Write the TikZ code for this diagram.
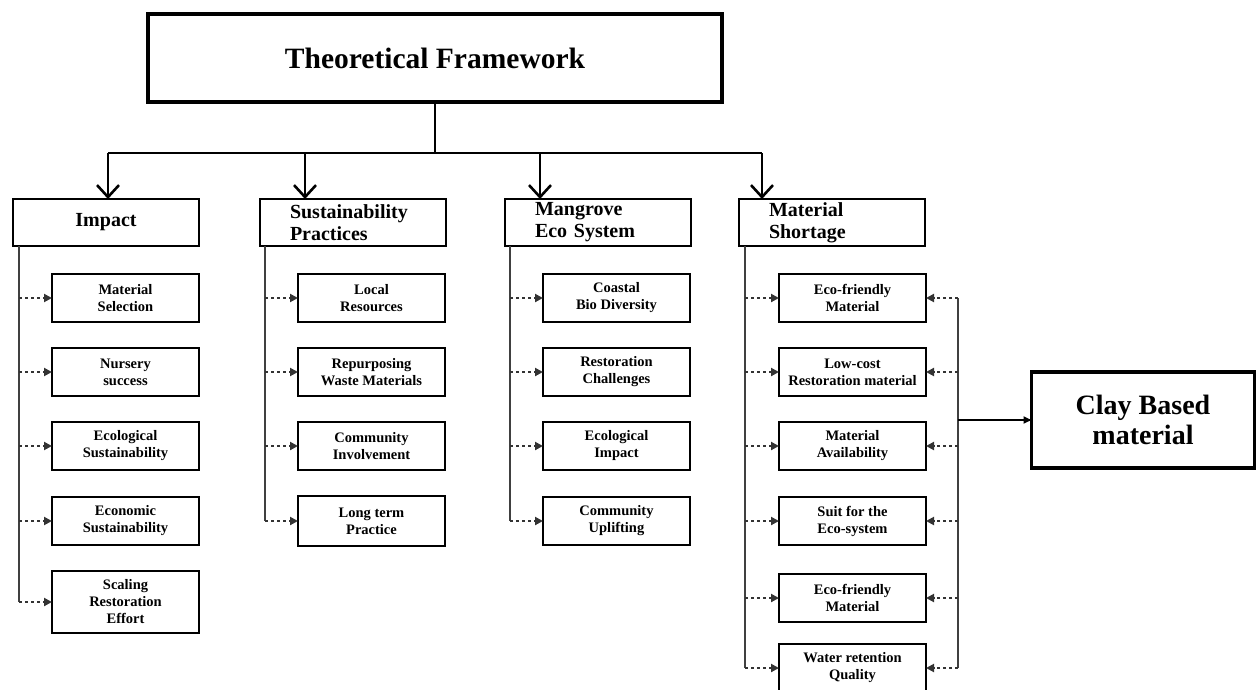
\documentclass[tikz,border=0pt]{standalone}
\usepackage{fontspec}
\setmainfont{Liberation Serif}
\usetikzlibrary{arrows.meta}
\begin{document}
\begin{tikzpicture}[x=1pt,y=-1pt,
  every node/.style={inner sep=0pt, outer sep=0pt},
  titlebox/.style={draw, line width=3.2pt, minimum width=574pt, minimum height=88pt, font=\bfseries\fontsize{29.5}{32}\selectfont},
  catbox/.style={draw, line width=2.6pt, minimum width=186pt, minimum height=47pt, font=\bfseries\fontsize{20}{22}\selectfont},
  catleft/.style={catbox, text width=126pt, inner xsep=30pt, align=left},
  leaf/.style={draw, line width=2.4pt, minimum width=147pt, minimum height=48pt, align=center, font=\bfseries\fontsize{14.5}{17}\selectfont},
  claybox/.style={draw, line width=3.2pt, minimum width=223pt, minimum height=96pt, align=center, font=\bfseries\fontsize{28}{30}\selectfont},
  main/.style={line width=2.6pt},
  down/.style={main, -{Straight Barb[length=12pt,width=22pt,line width=2.6pt]}},
  rail/.style={line width=2.4pt, black!75},
  dots/.style={line width=2pt, black!80, dash pattern=on 2.8pt off 3.2pt, -{Triangle[length=8pt,width=8pt]}},
  solidarr/.style={line width=1.8pt, -{Triangle[length=8pt,width=7pt]}}
]
\useasboundingbox (0,0) rectangle (1256,689);

% title
\node[titlebox] (tf) at (435,58) {Theoretical Framework};

% categories
\node[catbox] (c1) at (106,222.5) {Impact};
\node[catleft] (c2) at (353,222.5) {Sustainability\\Practices};
\node[catleft] (c3) at (598,222.5) {Mangrove\\Eco System};
\node[catleft] (c4) at (832,222.5) {Material\\Shortage};

% bus
\coordinate (bus) at (435,153);
\coordinate (b1) at (108,153);
\coordinate (b2) at (305,153);
\coordinate (b3) at (540,153);
\coordinate (b4) at (762,153);
\draw[main] (tf.south) -- (bus);
\draw[main] (b1) -- (b4);
\draw[down] (b1) -- (b1 |- c1.north);
\draw[down] (b2) -- (b2 |- c2.north);
\draw[down] (b3) -- (b3 |- c3.north);
\draw[down] (b4) -- (b4 |- c4.north);

% Impact leaves
\node[leaf] (i1) at (125.5,298) {Material\\Selection};
\node[leaf] (i2) at (125.5,372) {Nursery\\success};
\node[leaf] (i3) at (125.5,446) {Ecological\\Sustainability};
\node[leaf] (i4) at (125.5,521) {Economic\\Sustainability};
\node[leaf, minimum height=62pt] (i5) at (125.5,602) {Scaling\\Restoration\\Effort};

% Sustainability leaves
\node[leaf] (s1) at (371.5,298) {Local\\Resources};
\node[leaf] (s2) at (371.5,372) {Repurposing\\Waste Materials};
\node[leaf] (s3) at (371.5,446) {Community\\Involvement};
\node[leaf, minimum height=50pt] (s4) at (371.5,521) {Long term\\Practice};

% Mangrove leaves
\node[leaf] (m1) at (616.5,298) {Coastal\\Bio Diversity};
\node[leaf] (m2) at (616.5,372) {Restoration\\Challenges};
\node[leaf] (m3) at (616.5,446) {Ecological\\Impact};
\node[leaf] (m4) at (616.5,521) {Community\\Uplifting};

% Material leaves
\node[leaf] (r1) at (852.5,298) {Eco-friendly\\Material};
\node[leaf] (r2) at (852.5,372) {Low-cost\\Restoration material};
\node[leaf] (r3) at (852.5,446) {Material\\Availability};
\node[leaf] (r4) at (852.5,521) {Suit for the\\Eco-system};
\node[leaf] (r5) at (852.5,598) {Eco-friendly\\Material};
\node[leaf] (r6) at (852.5,668) {Water retention\\Quality};

% Clay
\node[claybox] (clay) at (1143,420) {Clay Based\\material};

% rails
\coordinate (ra1) at (19,246);
\coordinate (ra2) at (265,246);
\coordinate (ra3) at (510,246);
\coordinate (ra4) at (745,246);
\coordinate (rr) at (958,298);
\coordinate (jc) at (958,420);

\draw[rail] (ra1) -- (ra1 |- i5.west);
\foreach \n in {i1,i2,i3,i4,i5} \draw[dots] (ra1 |- \n.west) -- (\n.west);
\draw[rail] (ra2) -- (ra2 |- s4.west);
\foreach \n in {s1,s2,s3,s4} \draw[dots] (ra2 |- \n.west) -- (\n.west);
\draw[rail] (ra3) -- (ra3 |- m4.west);
\foreach \n in {m1,m2,m3,m4} \draw[dots] (ra3 |- \n.west) -- (\n.west);
\draw[rail] (ra4) -- (ra4 |- r6.west);
\foreach \n in {r1,r2,r3,r4,r5,r6} \draw[dots] (ra4 |- \n.west) -- (\n.west);

\draw[rail] (rr |- r1.east) -- (rr |- r6.east);
\foreach \n in {r1,r2,r3,r4,r5,r6} \draw[dots] (rr |- \n.east) -- (\n.east);
\draw[solidarr] (jc) -- (clay.west);
\end{tikzpicture}
\end{document}
